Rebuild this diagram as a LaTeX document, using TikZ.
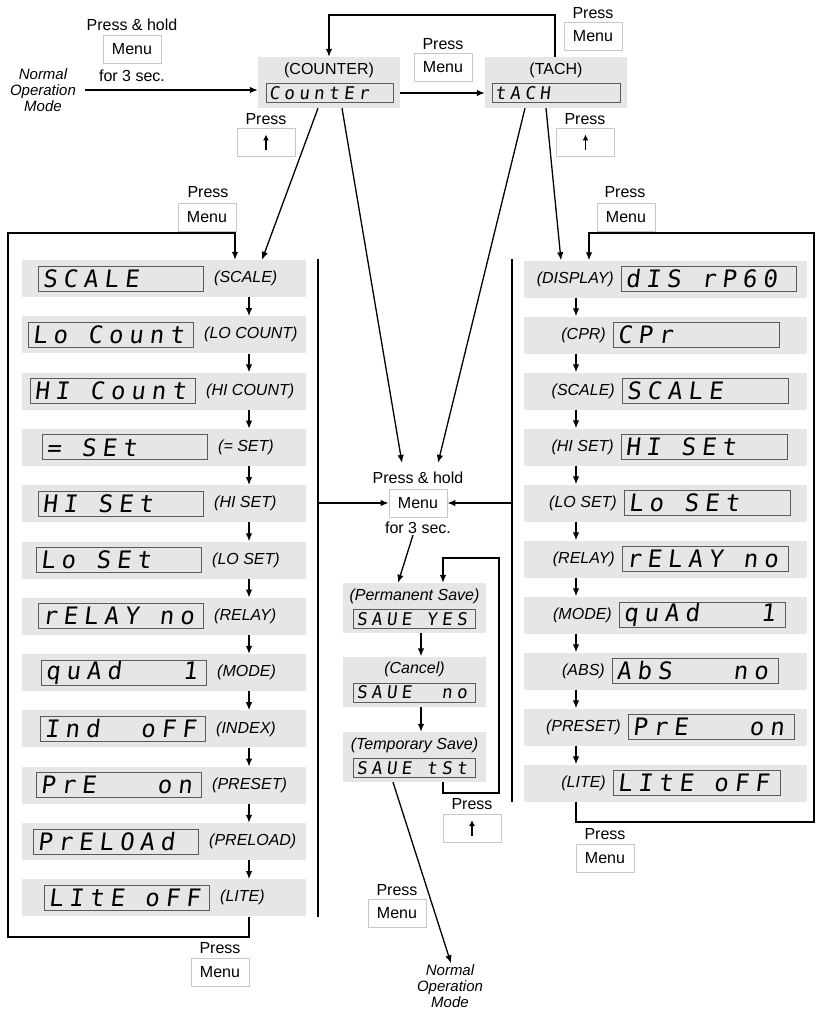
\documentclass[tikz,border=0pt]{standalone}
\usepackage{fontspec}
\setmainfont{Liberation Sans}
\newfontfamily\lcdfont[FakeSlant=0.12,LetterSpace=25]{DejaVu Sans Mono}
\newcommand\gap{\hspace{0.852em}}
\usetikzlibrary{arrows.meta,positioning}
\definecolor{panelgray}{RGB}{230,230,230}
\definecolor{boxgray}{RGB}{200,200,200}
\definecolor{lcdgray}{RGB}{90,90,90}

\begin{document}
\begin{tikzpicture}[x=1pt,y=-1pt,
    txt/.style={inner sep=1pt, font=\fontsize{16}{18}\selectfont},
    lab/.style={inner sep=1pt, font=\fontsize{16}{18}\selectfont\itshape},
    nom/.style={inner sep=1pt, align=center, font=\fontsize{15}{16}\selectfont\itshape},
    panel/.style={fill=panelgray, inner sep=0pt},
    lcd/.style={draw=lcdgray, line width=1pt, minimum height=25pt, inner xsep=4pt,
        inner ysep=0pt, align=left, font=\lcdfont\fontsize{24}{24}\selectfont},
    lcdsmall/.style={lcd, minimum height=19pt, inner xsep=3pt, font=\lcdfont\fontsize{17.5}{17.5}\selectfont},
    menubox/.style={draw=boxgray, fill=white, line width=0.8pt, minimum width=58pt,
        minimum height=28pt, inner sep=0pt, font=\fontsize{16}{18}\selectfont},
    line/.style={line width=1.3pt},
    arr/.style={line width=1.3pt, -{Latex[length=8pt,width=6.5pt]}},
    uparr/.style={line width=1.3pt, -{Latex[length=6pt,width=6pt]}}
  ]
  \useasboundingbox (0,0) rectangle (817,1011);

  % Entry from normal operation
  \node[nom] (nom1) at (43,90) {Normal\\Operation\\Mode};
  \node[txt] (ph1) at (132,25) {Press \& hold};
  \node[menubox] (m1) at (132,49) {Menu};
  \node[txt] (f31) at (132,76) {for 3 sec.};

  % Counter and tach
  \node[panel, minimum width=142pt, minimum height=51pt] (cnt) at (329,82.5) {};
  \node[txt] (cntl) at (329,70) {(COUNTER)};
  \node[lcdsmall, text width=121pt] (cntd) at (329.5,93) {CountEr};
  \node[panel, minimum width=142pt, minimum height=51pt] (tch) at (556,82.5) {};
  \node[txt] (tchl) at (556,70) {(TACH)};
  \node[lcdsmall, text width=122pt] (tchd) at (556,93) {tACH};

  \draw[arr] ([xshift=8pt]nom1.east) -- (nom1.east -| cnt.west);
  \node[txt] (p2) at (443,44) {Press};
  \node[menubox] (m2) at (443,67) {Menu};
  \draw[arr] (cntd.east -| cnt.east) -- (cntd.east -| tch.west);

  \coordinate (ttop) at (555,15);
  \draw[arr] (tch.north -| ttop) -- (ttop) -| (cnt.north);
  \node[txt] (p3) at (593,13) {Press};
  \node[menubox] (m3) at (593,36.5) {Menu};

  \node[txt] (p4) at (266,119) {Press};
  \node[menubox] (u1) at (266,142.5) {};
  \draw[uparr] ([yshift=-8pt]u1.center) -- ([yshift=8pt]u1.center);
  \node[txt] (p5) at (585,119) {Press};
  \node[menubox] (u2) at (585.5,142.5) {};
  \draw[uparr] ([yshift=-8pt]u2.center) -- ([yshift=8pt]u2.center);

  % Counter menu (left)
  \foreach \i/\bx/\txt/\lab in {
      1/38/SCALE/SCALE,
      2/28/Lo\gap Count/LO COUNT,
      3/30/HI\gap Count/HI COUNT,
      4/42/=\gap SEt/= SET,
      5/38/HI\gap SEt/HI SET,
      6/36/Lo\gap SEt/LO SET,
      7/38/rELAY\gap no/RELAY,
      8/41/quAd\gap\gap\gap 1/MODE,
      9/40/Ind\gap\gap oFF/INDEX,
      10/36/PrE\gap\gap\gap on/PRESET,
      11/33/PrELOAd/PRELOAD,
      12/44/LItE\gap oFF/LITE}{
    \pgfmathsetmacro\y{278.5+(\i-1)*56.3}
    \node[panel, minimum width=284pt, minimum height=37pt] (l\i) at (164,\y) {};
    \node[lcd, text width=157pt, anchor=west] (ld\i) at (\bx,\y) {\txt};
    \node[lab, anchor=west] (ll\i) at ([xshift=9pt]ld\i.east) {(\lab)};
  }
  \coordinate (lx) at (249,0);
  \foreach \i [count=\j from 2] in {1,...,11}
    \draw[arr] (l\i.south -| lx) -- (l\j.north -| lx);

  \coordinate (lbot) at (8,937);
  \coordinate (ltop) at (235,233);
  \draw[arr] (l12.south -| lx) |- (lbot) |- (ltop) -- (l1.north -| ltop);
  \node[txt] (p6) at (208,192) {Press};
  \node[menubox] (m4) at (207,217) {Menu};
  \node[txt] (p7) at (220,948) {Press};
  \node[menubox] (m5) at (220,972) {Menu};

  % Tach menu (right)
  \foreach \i/\bx/\tw/\txt/\lab in {
      1/621/167/dIS\gap rP60/DISPLAY,
      2/613/158/CPr/CPR,
      3/622/158/SCALE/SCALE,
      4/621/158/HI\gap SEt/HI SET,
      5/624/158/Lo\gap SEt/LO SET,
      6/622/158/rELAY\gap no/RELAY,
      7/619/158/quAd\gap\gap\gap 1/MODE,
      8/612/158/AbS\gap\gap\gap no/ABS,
      9/628/158/PrE\gap\gap\gap on/PRESET,
      10/613/159/LItE\gap oFF/LITE}{
    \pgfmathsetmacro\y{279+(\i-1)*56}
    \node[panel, minimum width=283pt, minimum height=37pt] (r\i) at (665.5,\y) {};
    \node[lcd, text width=\tw pt, anchor=west] (rd\i) at (\bx,\y) {\txt};
    \node[lab, anchor=east] (rl\i) at ([xshift=-6pt]rd\i.west) {(\lab)};
  }
  \coordinate (rx) at (576,0);
  \foreach \i [count=\j from 2] in {1,...,9}
    \draw[arr] (r\i.south -| rx) -- (r\j.north -| rx);

  \coordinate (rbot) at (814,822);
  \coordinate (rtop) at (589,233);
  \draw[arr] (r10.south -| rx) |- (rbot) |- (rtop) -- (r1.north -| rtop);
  \node[txt] (p8) at (625,192) {Press};
  \node[menubox] (m6) at (626,217) {Menu};
  \node[txt] (p9) at (605,834) {Press};
  \node[menubox] (m7) at (605,858) {Menu};

  % Save menu (centre)
  \node[txt] (ph2) at (418,478) {Press \& hold};
  \node[menubox] (mc) at (418,503) {Menu};
  \node[txt] (f32) at (418,528) {for 3 sec.};

  \draw[arr] ([xshift=-11pt]cnt.south) -- ([xshift=98pt]l1.north);
  \draw[arr] ([xshift=13pt]cnt.south) -- ([xshift=-16pt,yshift=8pt]ph2.north);
  \draw[arr] ([xshift=-31pt]tch.south) -- ([xshift=20pt,yshift=8pt]ph2.north);
  \draw[arr] ([xshift=-10pt]tch.south) -- ([xshift=-104.5pt]r1.north);

  \coordinate (lv) at (318,259);
  \draw[line] (lv) -- (lv |- l12.south);
  \draw[arr] (lv |- mc) -- (mc.west);
  \coordinate (rv) at (512,259);
  \draw[line] (rv) -- (rv |- r10.south);
  \draw[arr] (rv |- mc) -- (mc.east);

  \foreach \i/\y/\txt/\lab in {
      1/608/SAUE\gap YES/Permanent Save,
      2/681.5/SAUE\gap\gap no/Cancel,
      3/757/SAUE\gap tSt/Temporary Save}{
    \node[panel, minimum width=143pt, minimum height=50pt] (s\i) at (414.5,\y) {};
    \node[lab] (sl\i) at (414.5,\y-12) {(\lab)};
    \node[lcdsmall, text width=116pt] (sd\i) at (414.5,\y+11) {\txt};
  }
  \draw[arr] ([xshift=-5pt]f32.south) -- ([xshift=-16.5pt]s1.north);
  \coordinate (sx) at (421,0);
  \draw[arr] (s1.south -| sx) -- (s2.north -| sx);
  \draw[arr] (s2.south -| sx) -- (s3.north -| sx);

  \coordinate (sb) at (499,793);
  \coordinate (st) at (443,558);
  \draw[arr] (s3.south -| st) |- (sb) |- (st) -- (s1.north -| st);
  \node[txt] (p10) at (472,804) {Press};
  \node[menubox] (u3) at (472,828) {};
  \draw[uparr] ([yshift=-8pt]u3.center) -- ([yshift=8pt]u3.center);

  % Exit to normal operation
  \node[nom] (nom2) at (450,986) {Normal\\Operation\\Mode};
  \draw[arr] ([xshift=-21.5pt]s3.south) -- ([xshift=1pt]nom2.north);
  \node[txt] (p11) at (397,890) {Press};
  \node[menubox] (m8) at (397,913.5) {Menu};
\end{tikzpicture}
\end{document}
